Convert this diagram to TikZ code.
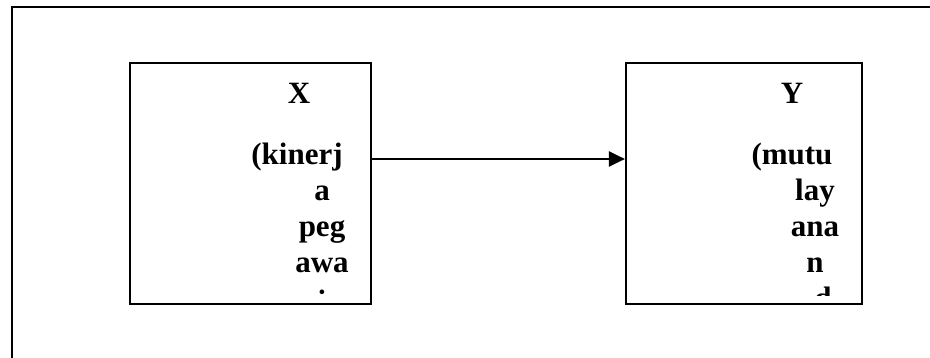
\documentclass[tikz,border=0pt]{standalone}
\usepackage{fontspec}
\setmainfont{Liberation Serif}
\usetikzlibrary{arrows.meta}
\begin{document}
\begin{tikzpicture}[x=1pt,y=-1pt,
  frame/.style={line width=2.2pt},
  box/.style={draw, line width=2.2pt, inner sep=0pt, minimum height=241pt},
  lbl/.style={font=\bfseries\fontsize{31}{36}\selectfont, inner sep=0pt, anchor=base},
  conn/.style={line width=2.2pt, -{Triangle[length=16pt,width=15pt]}}]
\useasboundingbox (0,0) rectangle (930,358);
% outer frame (cropped)
\coordinate (fbl) at (12,360);
\coordinate (ftl) at (12,7);
\coordinate (ftr) at (932,7);
\draw[frame] (fbl) -- (ftl) -- (ftr);
% boxes
\node[box, minimum width=241pt] (X) at (250.5,183.5) {};
\node[box, minimum width=236pt] (Y) at (744,183.5) {};
% texts in X
\begin{scope}
\clip (X.north west) rectangle ([yshift=9.5pt]X.south east);
\node[lbl] (x0) at (299,104) {X};
\node[lbl] (x1) at (297,165) {(kinerj};
\node[lbl] (x2) at (322,201) {a};
\node[lbl] (x3) at (322,237) {peg};
\node[lbl] (x4) at (322,273) {awa};
\node[lbl] (x5) at (322,311.5) {i};
\end{scope}
% texts in Y
\begin{scope}
\clip (Y.north west) rectangle ([yshift=9.5pt]Y.south east);
\node[lbl] (y0) at (792,104) {Y};
\node[lbl] (y1) at (792,165) {(mutu};
\node[lbl] (y2) at (815,201) {lay};
\node[lbl] (y3) at (815,237) {ana};
\node[lbl] (y4) at (815,273) {n};
\node[lbl] (y5) at (823,308.5) {d};
\end{scope}
% connector
\coordinate (ar) at (0,159);
\draw[conn] (X.east |- ar) -- (Y.west |- ar);
\end{tikzpicture}
\end{document}
